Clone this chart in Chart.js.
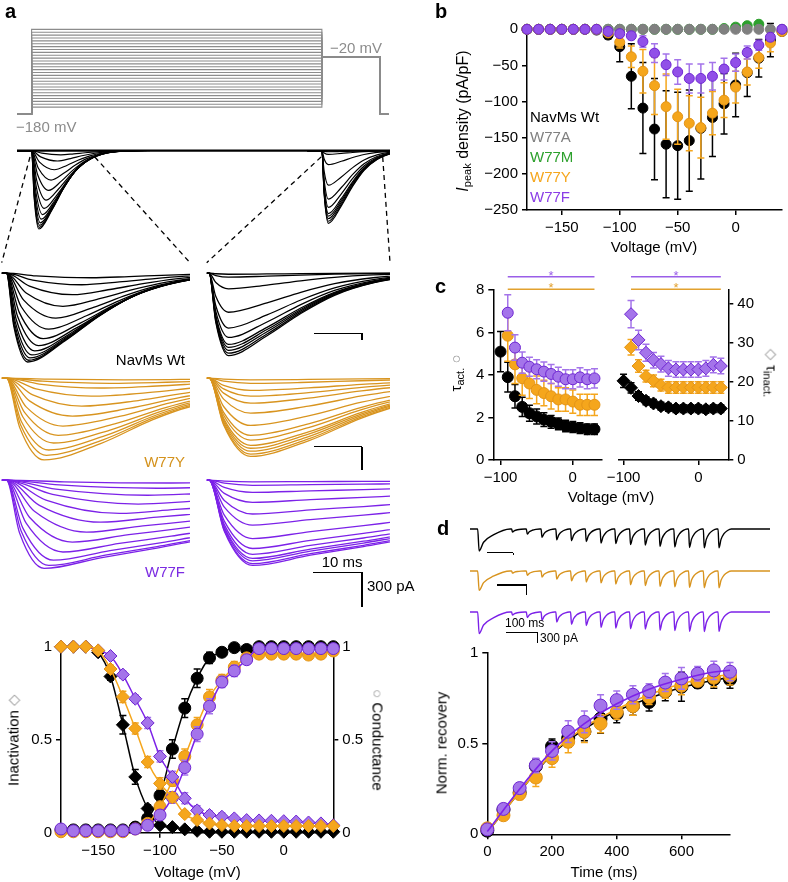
<!DOCTYPE html>
<html><head><meta charset="utf-8">
<script src="https://cdn.jsdelivr.net/npm/chart.js@4.4.0/dist/chart.umd.min.js"></script>
<style>
html,body{margin:0;padding:0;background:#fff;}
#root{position:relative;width:788px;height:882px;overflow:hidden;font-family:"Liberation Sans",Arial,Helvetica,sans-serif;background:#fff;}
canvas{position:absolute;}
.t{position:absolute;white-space:nowrap;color:#000;}
.ln{position:absolute;background:#000;}
.sub{font-size:11px;position:relative;top:3px;}
</style></head><body><div id="root"></div>
<script>
// ================= DATA =================
// Panel a : voltage protocol (prepulse levels, mV)
const protoLevels = [-160,-152,-144,-136,-128,-120,-112,-104,-96,-88,-80,-72,-64,-56,-48,-40,-32,-24,-16,-8,0,8,16,24,32,40,48,56];
const protoHold = -180, protoTest = -20;
// Panel a : current traces (peak amplitude pA, time to peak ms)
const wtActPeak  = [-760,-745,-725,-700,-665,-620,-560,-480,-385,-285,-185,-100,-40];
const wtActTtp   = [4.5,4.7,5,5.4,6,6.8,7.8,9,10.5,12,14,16,18];
const wtTestPeak = [-705,-685,-660,-635,-610,-550,-470,-335,-135,-35,-10];
const wtTestTtp  = 4;
const wtDecayT   = [0,8,15,22,30,40,55];
const wtDecayF   = [1,0.76,0.49,0.27,0.12,0.03,0];
const yActPeak   = [-700,-660,-615,-555,-490,-410,-325,-240,-155,-85,-45,-15];
const yActTtp    = [8,8.5,9,10,11,12,14,16,18,20,22,25];
const yTestPeak  = [-670,-650,-625,-600,-575,-530,-490,-405,-300,-215,-155,-105,-45,-15];
const yTestTtp   = 8.6;
const yDecayT    = [0,12,23,31,60];
const yDecayF    = [1,0.8,0.51,0.35,0.1];
const fActPeak   = [-755,-730,-685,-615,-530,-445,-360,-285,-205,-130,-70,-25];
const fActTtp    = [8,9,10,12,14,17,20,24,28,30,32,35];
const fTestPeak  = [-730,-715,-690,-670,-635,-585,-500,-385,-290,-190,-105,-45,-15];
const fTestTtp   = 9;
const fDecayT    = [0,12,23,31,60];
const fDecayF    = [1,0.88,0.78,0.7,0.45];
const riseT = [0,0.35,1], riseF = [0,0.6,1];

// Panel b : I-V
const bVolt = [-180,-170,-160,-150,-140,-130,-120,-110,-100,-90,-80,-70,-60,-50,-40,-30,-20,-10,0,10,20,30,40];
const wtI    = [0,0,0,0,0,0,-1,-8,-24,-65,-109,-138,-159,-161,-154,-137,-122,-103,-77,-60,-40,-15,-3];
const wtIerr = [0,0,0,0,0,0,0,5,21,45,63,70,74,74,70,70,54,42,44,33,26,23,3];
const aI     = [0,0,0,0,0,0,0,0,0,0,0,0,0,0,0,0,0,0,0,0,0,0,0];
const mI     = [0,0,0,0,0,0,0,0,0,0,0,0,0,0,0,0,0,1,3,5,7,9,10];
const yI     = [0,0,0,0,0,0,0,-5,-18,-38,-58,-78,-107,-121,-130,-136,-116,-98,-80,-59,-39,-19,-3];
const yIerr  = [0,0,0,0,0,0,0,3,8,15,30,40,45,38,38,42,30,24,22,18,15,12,3];
const fI     = [0,0,0,0,0,0,0,-3,-6,-9,-17,-33,-49,-59,-68,-68,-65,-55,-46,-32,-22,-11,0];
const fIerr  = [0,0,0,0,0,0,0,2,3,5,8,13,15,17,20,20,19,15,12,9,7,5,2];

// Panel c : time constants
const cVolt = [-100,-90,-80,-70,-60,-50,-40,-30,-20,-10,0,10,20,30];
const tauActWt    = [5.1,3.9,3.0,2.5,2.2,2.05,1.9,1.8,1.7,1.6,1.55,1.5,1.45,1.45];
const tauActWtErr = [0.95,0.7,0.55,0.45,0.38,0.35,0.32,0.3,0.28,0.27,0.26,0.25,0.25,0.25];
const tauActY     = [null,5.85,4.5,3.85,3.6,3.3,3.15,3.0,2.85,2.85,2.75,2.6,2.6,2.6];
const tauActYErr  = [null,1.2,0.9,0.8,0.7,0.65,0.6,0.6,0.55,0.55,0.55,0.5,0.5,0.5];
const tauActF     = [null,6.93,5.29,4.58,4.39,4.27,4.16,4.05,3.92,3.8,3.8,3.89,3.8,3.84];
const tauActFErr  = [null,0.85,0.6,0.5,0.45,0.45,0.45,0.45,0.45,0.45,0.45,0.45,0.45,0.45];
const tauInWt     = [20.3,18.5,16.4,15.2,14.5,13.8,13.5,13.2,13.2,13.2,13.2,13.0,13.2,13.2];
const tauInWtErr  = [1.7,1.3,1.1,1.0,1.0,1.0,1.0,1.0,1.0,1.0,1.0,1.0,1.0,1.0];
const tauInY      = [null,28.9,24.1,21.5,20.3,19.2,18.6,18.6,18.6,18.6,18.6,18.6,18.6,18.6];
const tauInYErr   = [null,2.0,1.6,1.5,1.5,1.5,1.5,1.5,1.5,1.5,1.5,1.5,1.5,1.5];
const tauInF      = [null,37.4,30.8,27.5,25.6,24.6,23.5,23.2,23.2,23.2,23.2,23.5,24.4,24.1];
const tauInFErr   = [null,3.5,2.5,2.2,2.0,2.0,2.0,2.0,2.0,2.0,2.0,2.0,2.0,2.0];
const sigRange = [-90,30];

// Bottom-left : steady-state inactivation / conductance
const inactWt    = [1,1,1,0.97,0.84,0.58,0.3,0.13,0.04,0.03,0.018,0.01,0.005,0.005,0.005,0.005,0.005,0.005,0.005,0.005,0.005,0.005,0.005];
const inactWtErr = [0,0,0,0.01,0.02,0.05,0.04,0.02,0.01,0.01,0,0,0,0,0,0,0,0,0,0,0,0,0];
const inactY     = [1,1,1,0.98,0.88,0.73,0.56,0.38,0.265,0.19,0.1,0.068,0.05,0.041,0.036,0.036,0.036,0.036,0.036,0.036,0.036,0.036,0.036];
const inactYErr  = [0,0,0,0.01,0.02,0.03,0.03,0.03,0.03,0.025,0.015,0.01,0.01,0.01,0.01,0.01,0.01,0.01,0.01,0.01,0.01,0.01,0.01];
const inactF     = [1,1,1,0.98,0.95,0.85,0.72,0.59,0.41,0.3,0.185,0.12,0.095,0.086,0.077,0.068,0.066,0.064,0.062,0.06,0.055,0.05,0.04];
const inactFErr  = [0,0,0,0.01,0.01,0.02,0.02,0.03,0.03,0.03,0.03,0.025,0.02,0.02,0.015,0.01,0.01,0.01,0.01,0.01,0.01,0.01,0.01];
const gWt    = [0.015,0.015,0.015,0.015,0.015,0.015,0.03,0.077,0.2,0.45,0.67,0.83,0.94,0.97,0.995,0.985,1,1,1,1,1,1,1];
const gWtErr = [0,0,0,0,0,0,0.01,0.01,0.03,0.05,0.05,0.05,0.03,0.02,0.01,0.01,0.005,0.005,0.005,0.005,0.005,0.005,0.005];
const gY     = [0.005,0.005,0.005,0.005,0.005,0.005,0.02,0.05,0.14,0.28,0.41,0.58,0.73,0.82,0.89,0.94,0.96,0.96,0.96,0.96,0.955,0.96,0.977];
const gYErr  = [0,0,0,0,0,0,0.01,0.01,0.02,0.03,0.04,0.04,0.04,0.03,0.03,0.02,0.01,0.01,0.01,0.01,0.01,0.01,0.01];
const gF     = [0.02,0.01,0.01,0.01,0.01,0.01,0.02,0.04,0.095,0.19,0.35,0.53,0.68,0.81,0.87,0.93,0.99,0.99,0.99,0.99,0.99,0.99,0.99];
const gFErr  = [0,0,0,0,0,0,0.01,0.01,0.02,0.03,0.04,0.04,0.04,0.03,0.03,0.02,0.01,0.01,0.01,0.01,0.01,0.01,0.01];

// Panel d : recovery from inactivation
const dTime = [0,50,100,150,200,250,300,350,400,450,500,550,600,650,700,750];
const recWt    = [0.02,0.135,0.23,0.376,0.485,0.53,0.566,0.638,0.665,0.707,0.73,0.787,0.814,0.837,0.855,0.855];
const recWtErr = [0.01,0.02,0.03,0.04,0.04,0.05,0.05,0.08,0.05,0.05,0.05,0.05,0.08,0.03,0.05,0.05];
const recY     = [0.033,0.105,0.222,0.313,0.42,0.51,0.566,0.61,0.675,0.707,0.756,0.79,0.82,0.846,0.864,0.873];
const recYErr  = [0.01,0.02,0.03,0.05,0.05,0.06,0.06,0.05,0.04,0.05,0.04,0.04,0.05,0.03,0.05,0.05];
const recF     = [0.027,0.14,0.255,0.38,0.46,0.566,0.62,0.71,0.74,0.77,0.79,0.837,0.86,0.886,0.904,0.897];
const recFErr  = [0.01,0.02,0.03,0.04,0.05,0.06,0.06,0.06,0.05,0.05,0.04,0.05,0.06,0.04,0.05,0.05];
const fitTime  = [0,100,200,300,400,500,600,700,750];
const fitWt    = [0.01,0.235,0.44,0.58,0.68,0.75,0.81,0.85,0.865];
const fitY     = [0.01,0.235,0.445,0.59,0.69,0.77,0.83,0.87,0.88];
const fitF     = [0.015,0.25,0.46,0.61,0.72,0.8,0.855,0.895,0.905];
// Panel d : example sweeps (first pulse amplitude pA per construct)
const recAmp = {wt:-600, y:-527, f:-590};
const recOffset = 65;
const firstT = [0,5,20,53,110], firstF = [0,1,0.6,0.27,0];
const spikeT = [0,3,10,20,32,45], spikeF = [0,1,0.55,0.25,0.08,0];

// ================= STYLE / HELPERS =================
const FONT = '"Liberation Sans", Arial, Helvetica, sans-serif';
Chart.defaults.font.family = FONT;
Chart.defaults.font.size = 15;
Chart.defaults.color = '#000';
Chart.defaults.animation = false;
Chart.defaults.events = [];
Chart.defaults.plugins.legend.display = false;
Chart.defaults.plugins.tooltip.enabled = false;

const C = {
  black:'#000000', gray:'#808080', green:'#2ca02c',
  orange:'#f5a61c', orangeDk:'#e39418', orangeTr:'#d8941f',
  purple:'#9150e8', purpleDk:'#6e26d2', purpleLt:'#a474ea', purpleTr:'#7c22e8'
};
const root = document.getElementById('root');
function mkCanvas(l,t,w,h){
  const c=document.createElement('canvas'); c.width=w; c.height=h;
  c.style.left=l+'px'; c.style.top=t+'px'; c.style.width=w+'px'; c.style.height=h+'px';
  root.appendChild(c); return c;
}
function txt(html,x,base,o={}){
  const s=o.size||15, d=document.createElement('div'); d.className='t';
  d.innerHTML=html; d.style.fontSize=s+'px'; d.style.lineHeight=s+'px';
  d.style.left=x+'px'; d.style.top=(base-0.8465*s)+'px';
  if(o.color) d.style.color=o.color;
  if(o.bold) d.style.fontWeight='bold';
  if(o.align==='right') d.style.transform='translateX(-100%)';
  if(o.align==='center') d.style.transform='translateX(-50%)';
  root.appendChild(d); return d;
}
function rtxt(html,cx,cy,deg,o={}){
  const s=o.size||15, d=document.createElement('div'); d.className='t';
  d.innerHTML=html; d.style.fontSize=s+'px'; d.style.lineHeight=s+'px';
  d.style.left=cx+'px'; d.style.top=cy+'px';
  d.style.transform='translate(-50%,-50%) rotate('+deg+'deg)';
  root.appendChild(d); return d;
}
function hl(x1,x2,y,w=1.5,col='#000'){const d=document.createElement('div');d.className='ln';d.style.left=x1+'px';d.style.top=(y-w/2)+'px';d.style.width=(x2-x1)+'px';d.style.height=w+'px';d.style.background=col;root.appendChild(d);}
function vl(x,y1,y2,w=1.5,col='#000'){const d=document.createElement('div');d.className='ln';d.style.left=(x-w/2)+'px';d.style.top=y1+'px';d.style.width=w+'px';d.style.height=(y2-y1)+'px';d.style.background=col;root.appendChild(d);}

const fmt = v => String(v).replace('-','\u2212');
function axis(o){
  return {
    type:'linear', position:o.pos, min:o.min, max:o.max,
    border:{display:true,color:'#000',width:1.5},
    grid:{display:true,drawOnChartArea:false,drawTicks:true,tickLength:5,color:'#000',lineWidth:1.5},
    ticks:{stepSize:o.step,includeBounds:false,padding:4,color:'#000',font:{size:15},callback:fmt,maxRotation:0,autoSkip:false},
    afterFit(s){ if(o.size!=null){ if(s.isHorizontal()) s.height=o.size; else s.width=o.size; } }
  };
}
function hidden(min,max){return {type:'linear',display:false,min,max};}
function ser(xs,ys,es,st){
  const d=[],e=[];
  xs.forEach((x,i)=>{ if(ys[i]!=null){ d.push({x,y:ys[i]}); e.push(es?es[i]:0);} });
  return Object.assign({data:d,errs:es?e:null,clip:false},st);
}
const errorBars = {
  id:'errorBars',
  beforeDatasetDraw(chart,args){
    const ds=chart.data.datasets[args.index]; if(!ds.errs) return;
    const meta=args.meta, xs=chart.scales[meta.xAxisID], ys=chart.scales[meta.yAxisID], ctx=chart.ctx;
    ctx.save(); ctx.strokeStyle=ds.errColor||ds.borderColor; ctx.lineWidth=ds.errWidth||1.5;
    const cap=ds.capW||3.5;
    ds.data.forEach((p,i)=>{
      const e=ds.errs[i]; if(!e) return;
      const x=xs.getPixelForValue(p.x), y1=ys.getPixelForValue(p.y-e), y2=ys.getPixelForValue(p.y+e);
      ctx.beginPath(); ctx.moveTo(x,y1); ctx.lineTo(x,y2);
      ctx.moveTo(x-cap,y1); ctx.lineTo(x+cap,y1); ctx.moveTo(x-cap,y2); ctx.lineTo(x+cap,y2); ctx.stroke();
    });
    ctx.restore();
  }
};
Chart.register(errorBars);

function pts(ds,fill,border,r,style,extra){
  return Object.assign({backgroundColor:fill,borderColor:border,pointBackgroundColor:fill,pointBorderColor:border,
    pointBorderWidth:1,pointRadius:r,pointStyle:style||'circle',errColor:fill},extra||{});
}

// trace builders
function trace(t0,ttp,peak,decT,decF,tStart){
  const p=[{x:tStart,y:0}];
  riseT.forEach((r,k)=>p.push({x:t0+ttp*r,y:peak*riseF[k]}));
  for(let k=1;k<decT.length;k++) p.push({x:t0+ttp+decT[k],y:peak*decF[k]});
  return p;
}
function lineDs(data,color,w){return {data,borderColor:color,borderWidth:w||1.3,pointRadius:0,fill:false,cubicInterpolationMode:'monotone'};}
function traceChart(l,t,w,h,pad,xmin,xmax,ymin,ymax,datasets){
  return new Chart(mkCanvas(l,t,w,h),{type:'line',data:{datasets},
    options:{responsive:false,devicePixelRatio:1,layout:{padding:pad},
      scales:{x:hidden(xmin,xmax),y:hidden(ymin,ymax)}}});
}

// ================= PANEL a =================
const protoDs = protoLevels.map(L=>lineDs([
  {x:-9,y:protoHold},{x:0,y:protoHold},{x:0,y:L},{x:179,y:L},{x:179,y:protoTest},{x:215,y:protoTest},{x:215,y:protoHold},{x:220,y:protoHold}
],'#8c8c8c',1.1));
protoDs.forEach(d=>{d.cubicInterpolationMode='default';d.tension=0;});
traceChart(0,20,400,115,{left:17,right:10,top:7.9,bottom:18.9},-9,221,-185,60,protoDs);

const ovDs=[lineDs([{x:-9,y:0},{x:221,y:0}],'#000',2.2)];
wtActPeak.forEach((pk,i)=>ovDs.push(lineDs(trace(0,wtActTtp[i],pk,wtDecayT,wtDecayF,-9),'#000',1.2)));
wtTestPeak.forEach(pk=>ovDs.push(lineDs(trace(179,wtTestTtp,pk,wtDecayT,wtDecayF,170),'#000',1.2)));
const ov = traceChart(0,140,400,100,{left:17,right:10,top:6.6,bottom:6.9},-9,221,-800,40,ovDs);

function famL(peaks,ttps,dT,dF,col){return peaks.map((pk,i)=>lineDs(trace(0,ttps[i],pk,dT,dF,-1),col,1.3));}
function famR(peaks,ttp,dT,dF,col){return peaks.map(pk=>lineDs(trace(0,ttp,pk,dT,dF,-0.5),col,1.3));}
const padL={left:1.7,right:10,top:0,bottom:0}, padR={left:6.7,right:10,top:0,bottom:0};
const wtL = traceChart(0,262.7,200,106,padL,-1,39,-820,86,famL(wtActPeak,wtActTtp,wtDecayT,wtDecayF,'#000'));
const wtR = traceChart(200,262.7,200,106,padR,-0.5,37.5,-820,86,famR(wtTestPeak,wtTestTtp,wtDecayT,wtDecayF,'#000'));
traceChart(0,368.3,200,106,padL,-1,39,-820,86,famL(yActPeak,yActTtp,yDecayT,yDecayF,C.orangeTr));
traceChart(200,368.3,200,106,padR,-0.5,37.5,-820,86,famR(yTestPeak,yTestTtp,yDecayT,yDecayF,C.orangeTr));
traceChart(0,470,200,106,padL,-1,39,-820,86,famL(fActPeak,fActTtp,fDecayT,fDecayF,C.purpleTr));
traceChart(200,470,200,106,padR,-0.5,37.5,-820,86,famR(fTestPeak,fTestTtp,fDecayT,fDecayF,C.purpleTr));

// dashed zoom connectors derived from the chart scales
(function(){
  const c=mkCanvas(0,0,400,300), ctx=c.getContext('2d');
  ctx.setLineDash([5,4]); ctx.lineWidth=1.3; ctx.strokeStyle='#000';
  const sx=ov.scales.x, yTop=157, yBot=262.7;
  const seg=[[sx.getPixelForValue(-1),wtL.chartArea.left],[sx.getPixelForValue(39),wtL.chartArea.right],
             [sx.getPixelForValue(178.5),200+wtR.chartArea.left],[sx.getPixelForValue(216.5),200+wtR.chartArea.right]];
  seg.forEach(s=>{ctx.beginPath();ctx.moveTo(s[0],yTop);ctx.lineTo(s[1],yBot);ctx.stroke();});
})();

txt('a',5,18,{size:20,bold:true});
txt('\u221220 mV',330,53,{color:'#8c8c8c'});
txt('\u2212180 mV',16,131.7,{color:'#8c8c8c'});
txt('NavMs Wt',185,365,{align:'right'});
txt('W77Y',185,466.7,{align:'right',color:'#d4921c'});
txt('W77F',185,577,{align:'right',color:'#7b2be2'});
hl(314,362,333.3); vl(362,333.3,340);
hl(314,362,446.7); vl(362,446.7,470);
hl(313,362,572.3); vl(362,572.3,607);
txt('10 ms',321.7,567);
txt('300 pA',367,591);

// ================= PANEL b =================
new Chart(mkCanvas(430,0,358,260),{type:'scatter',
  data:{datasets:[
    ser(bVolt,fI,fIerr,pts(null,C.purple,C.purpleDk,5,'circle',{errColor:C.purpleLt})),
    ser(bVolt,yI,yIerr,pts(null,C.orange,C.orangeDk,5,'circle',{errColor:C.orange})),
    ser(bVolt,aI,null,pts(null,C.gray,C.gray,5)),
    ser(bVolt,mI,null,pts(null,C.green,C.green,5)),
    ser(bVolt,wtI,wtIerr,pts(null,'#000','#000',5,'circle',{errColor:'#000'}))
  ]},
  options:{responsive:false,devicePixelRatio:1,layout:{padding:{left:0,right:5.3,top:29.3,bottom:0}},
    scales:{x:axis({pos:'bottom',min:-180,max:40,step:50,size:50}),y:axis({pos:'left',min:-250,max:0,step:50,size:97})}}
});
txt('b',435,18.3,{size:20,bold:true});
txt('NavMs Wt',530,121.7);
txt('W77A',530,141.7,{color:C.gray});
txt('W77M',530,161.7,{color:C.green});
txt('W77Y',530,181.7,{color:C.orange});
txt('W77F',530,201.7,{color:'#8a3ee6'});
txt('Voltage (mV)',654,252,{align:'center'});
rtxt('<i>I</i><span class="sub">peak</span> density (pA/pF)',463,120.7,-90,{size:16});

// ================= PANEL c =================
const sigPlugin={id:'sig',afterDraw(chart){
  const sx=chart.scales.x, ctx=chart.ctx, top=chart.chartArea.top;
  const x1=sx.getPixelForValue(sigRange[0]), x2=sx.getPixelForValue(sigRange[1]);
  [[13.3,'#9a5ee8'],[0.7,'#e2a12e']].forEach(b=>{
    const y=top-b[0]; ctx.save(); ctx.strokeStyle=b[1]; ctx.lineWidth=1.5;
    ctx.beginPath(); ctx.moveTo(x1,y); ctx.lineTo(x2,y); ctx.stroke();
    ctx.fillStyle=b[1]; ctx.font='13px '+FONT; ctx.textAlign='center'; ctx.textBaseline='alphabetic';
    ctx.fillText('*',(x1+x2)/2,y+3); ctx.restore();
  });
}};
new Chart(mkCanvas(430,270,180,240),{type:'scatter',
  data:{datasets:[
    ser(cVolt,tauActF,tauActFErr,pts(null,C.purpleLt,C.purpleDk,5.5,'circle',{errColor:C.purpleLt})),
    ser(cVolt,tauActY,tauActYErr,pts(null,C.orange,C.orangeDk,5.5,'circle',{errColor:C.orange})),
    ser(cVolt,tauActWt,tauActWtErr,pts(null,'#000','#000',5.5,'circle',{errColor:'#000'}))
  ]},
  options:{responsive:false,devicePixelRatio:1,layout:{padding:{left:0,right:8.3,top:20,bottom:0}},
    scales:{x:axis({pos:'bottom',min:-110,max:40,step:100,size:50}),y:axis({pos:'left',min:0,max:8,step:2,size:63.3})}},
  plugins:[sigPlugin]
});
new Chart(mkCanvas(600,270,188,240),{type:'scatter',
  data:{datasets:[
    ser(cVolt,tauInF,tauInFErr,pts(null,C.purpleLt,C.purpleDk,6.5,'rectRot',{errColor:C.purpleLt})),
    ser(cVolt,tauInY,tauInYErr,pts(null,C.orange,C.orangeDk,6.5,'rectRot',{errColor:C.orange})),
    ser(cVolt,tauInWt,tauInWtErr,pts(null,'#000','#000',6.5,'rectRot',{errColor:'#000'}))
  ]},
  options:{responsive:false,devicePixelRatio:1,layout:{padding:{left:18.3,right:0,top:20,bottom:0}},
    scales:{x:axis({pos:'bottom',min:-107,max:40,step:100,size:50}),y:axis({pos:'right',min:0,max:43.6,step:10,size:59.7})}},
  plugins:[sigPlugin]
});
txt('c',435,293,{size:20,bold:true});
txt('Voltage (mV)',611,502,{align:'center'});
rtxt('\u03c4<span class="sub">act.</span> <span style="color:#999">\u25cb</span>',456,372.5,-90,{size:15});
rtxt('<span style="color:#999">\u25c7</span> \u03c4<span class="sub">inact.</span>',771,373,90,{size:15});

// ================= Bottom-left : inactivation / conductance =================
function lineSer(xs,ys,es,fill,border,r,style,lineCol,errCol,yAxisID){
  return ser(xs,ys,es,Object.assign(pts(null,fill,border,r,style,{errColor:errCol}),
    {showLine:true,borderColor:lineCol,borderWidth:1.5,cubicInterpolationMode:'monotone',yAxisID}));
}
new Chart(mkCanvas(0,620,400,262),{type:'scatter',
  data:{datasets:[
    lineSer(bVolt,inactY,inactYErr,C.orange,C.orangeDk,6.5,'rectRot',C.orange,C.orange,'yL'),
    lineSer(bVolt,gF,gFErr,C.purpleLt,C.purpleDk,6,'circle',C.purpleTr,C.purpleLt,'yR'),
    lineSer(bVolt,inactF,inactFErr,C.purpleLt,C.purpleDk,6.5,'rectRot',C.purpleTr,C.purpleLt,'yL'),
    lineSer(bVolt,gY,gYErr,C.orange,C.orangeDk,6,'circle',C.orange,C.orange,'yR'),
    lineSer(bVolt,inactWt,inactWtErr,'#000','#000',6.5,'rectRot','#000','#000','yL'),
    lineSer(bVolt,gWt,gWtErr,'#000','#000',6,'circle','#000','#000','yR')
  ]},
  options:{responsive:false,devicePixelRatio:1,layout:{padding:{left:0,right:0,top:26.7,bottom:0}},
    scales:{x:axis({pos:'bottom',min:-180,max:40,step:50,size:49.3}),
      yL:axis({pos:'left',min:0,max:1,step:0.5,size:61}),
      yR:axis({pos:'right',min:0,max:1,step:0.5,size:66.7})}}
});
rtxt('Inactivation <span style="color:#999">\u25c7</span>',13.3,740,-90);
rtxt('<span style="color:#999">\u25cb</span> Conductance',378,740,90);
txt('Voltage (mV)',197.5,877,{align:'center'});

// ================= PANEL d =================
function recTrace(amp,rec){
  const p=[{x:-26,y:0}];
  firstT.forEach((t,k)=>p.push({x:t,y:amp*firstF[k]}));
  for(let i=1;i<rec.length;i++){
    const t0=recOffset+dTime[i];
    spikeT.forEach((t,k)=>p.push({x:t0+t,y:amp*rec[i]*spikeF[k]}));
  }
  p.push({x:991,y:0});
  return p;
}
const padD={left:40,right:18,top:0,bottom:0};
traceChart(430,526,358,32,padD,-26,991,-790,82,[lineDs(recTrace(recAmp.wt,recWt),'#000',1.4)]);
traceChart(430,567.7,358,32,padD,-26,991,-790,82,[lineDs(recTrace(recAmp.y,recY),C.orangeTr,1.4)]);
traceChart(430,608.7,358,32,padD,-26,991,-790,82,[lineDs(recTrace(recAmp.f,recF),C.purpleTr,1.4)]);
hl(486.7,513.3,552.7,1.3); vl(513.3,552.7,555,1.3);
hl(497,526.7,585,1.3); vl(526.7,585,595,1.3);
hl(506,537.3,632.3,1.3); vl(537.3,632.3,643,1.3);
txt('100 ms',505,627.5,{size:12});
txt('300 pA',540,642,{size:12});

function fitSer(ys,col){return {data:fitTime.map((t,i)=>({x:t,y:ys[i]})),showLine:true,borderColor:col,borderWidth:1.6,
  pointRadius:0,cubicInterpolationMode:'monotone',clip:false};}
new Chart(mkCanvas(430,640,358,242),{type:'scatter',
  data:{datasets:[
    fitSer(fitF,C.purpleTr),
    ser(dTime,recF,recFErr,pts(null,C.purpleLt,C.purpleDk,6.5,'circle',{errColor:C.purpleLt})),
    fitSer(fitY,C.orange),
    ser(dTime,recY,recYErr,pts(null,C.orange,C.orangeDk,6.5,'circle',{errColor:C.orange})),
    fitSer(fitWt,'#000'),
    ser(dTime,recWt,recWtErr,pts(null,'#000','#000',6.5,'circle',{errColor:'#000'}))
  ]},
  options:{responsive:false,devicePixelRatio:1,layout:{padding:{left:0,right:58,top:10,bottom:0}},
    scales:{x:axis({pos:'bottom',min:0,max:750,step:200,size:47.7}),y:axis({pos:'left',min:0,max:1,step:0.5,size:57.3})}}
});
txt('d',437,535,{size:20,bold:true});
rtxt('Norm. recovery',441,743,-90);
txt('Time (ms)',604,877,{align:'center'});
</script></body></html>
